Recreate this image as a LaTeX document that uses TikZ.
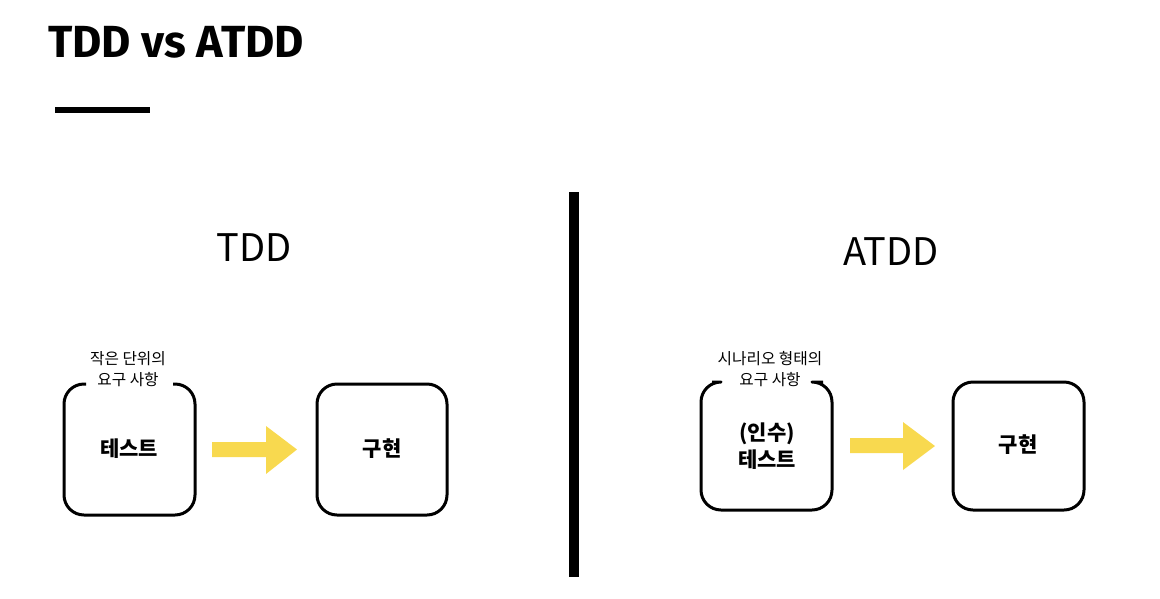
\documentclass[tikz,border=0pt]{standalone}
\usepackage{fontspec}
\setmainfont{Noto Sans CJK KR}
\newfontfamily\titlefont{Fira Sans}
\newfontfamily\krfont{Noto Sans CJK KR}
\definecolor{arrowyellow}{HTML}{F8D94F}
\tikzset{
  boxline/.style={line width=3pt, rounded corners=20pt, line join=round},
  reqtext/.style={font=\krfont\fontsize{15.7}{21}\selectfont, align=center, inner sep=0pt},
  boxtext/.style={font=\krfont\bfseries\fontsize{21}{27}\selectfont, align=center, inner sep=0pt},
  headtext/.style={font=\krfont\fontsize{38}{44}\selectfont, inner sep=0pt},
  blockarrow/.style={fill=arrowyellow, draw=none},
}
\begin{document}
\begin{tikzpicture}[x=1pt,y=-1pt]
\useasboundingbox (0,0) rectangle (1160,598);
% title
\node[anchor=west, inner sep=0pt, font=\titlefont\bfseries\fontsize{45}{50}\selectfont] (title) at (48,42) {TDD vs ATDD};
\fill (55,107) rectangle (150,113);
% divider
\fill (569,192) rectangle (579,577);
% headings
\node[headtext] (htdd) at (254,248) {TDD};
\node[headtext] (hatdd) at (891,252) {ATDD};

% ---- left side (TDD)
\draw[boxline] (86,384) -- (64,384) -- (64,515) -- (195,515) -- (195,384) -- (173,384);
\node[reqtext] (req1) at (128,369) {작은 단위의\\요구 사항};
\node[boxtext] (test1) at (129,449) {테스트};
\draw[boxline] (317,384) rectangle (447,515);
\node[boxtext] (impl1) at (382,449) {구현};
\fill[blockarrow] (212,442) -- (266,442) -- (266,426) -- (297,449.5) -- (266,474) -- (266,457) -- (212,457) -- cycle;

% ---- right side (ATDD)
\draw[boxline] (712,382) -- (701,382) -- (701,510) -- (832,510) -- (832,382) -- (823,382);
\node[reqtext] (req2) at (770,369) {시나리오 형태의\\요구 사항};
\node[boxtext] (test2) at (767,446) {(인수)\\테스트};
\draw[boxline] (953,382) rectangle (1084,510);
\node[boxtext] (impl2) at (1018,445) {구현};
\fill[blockarrow] (850,438) -- (903,438) -- (903,422) -- (935,446) -- (903,470) -- (903,453) -- (850,453) -- cycle;
\end{tikzpicture}
\end{document}
